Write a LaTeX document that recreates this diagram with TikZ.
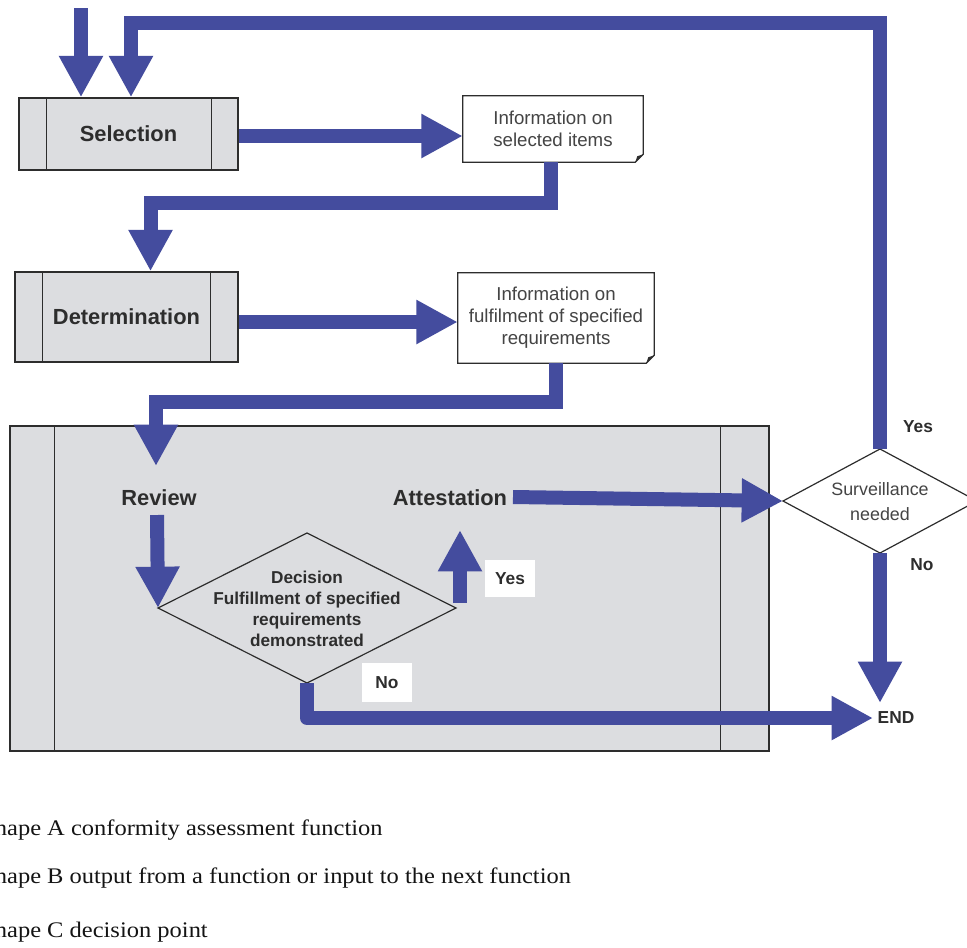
\documentclass[tikz,border=0pt]{standalone}
\usepackage{fontspec}
\setmainfont{Liberation Sans}
\newfontfamily\legendfont[FakeStretch=1.1]{Liberation Serif}
\usetikzlibrary{arrows.meta}
\definecolor{flowblue}{RGB}{68,76,158}
\definecolor{boxgray}{RGB}{220,221,224}
\definecolor{inkgray}{RGB}{45,45,45}
\definecolor{txtgray}{RGB}{68,68,68}
\begin{document}
\begin{tikzpicture}[x=0.75pt,y=-0.75pt,
  flow/.style={draw=flowblue,line width=10.5pt,-{Triangle[width=31pt,length=31pt]}},
  fnbox/.style={draw=inkgray,fill=boxgray,line width=1.1pt,rectangle,inner sep=0pt},
  fnline/.style={draw=inkgray,line width=1.1pt},
  infoline/.style={draw=inkgray,line width=1pt},
  diamline/.style={draw=inkgray,line width=0.9pt},
  biglbl/.style={font=\bfseries\fontsize{16.4}{19}\selectfont,text=inkgray,inner sep=2pt},
  infotxt/.style={font=\fontsize{14}{16.5}\selectfont,text=txtgray,align=center,inner sep=0pt},
  yn/.style={font=\bfseries\fontsize{13}{15}\selectfont,text=inkgray},
  legend/.style={anchor=base west,font=\legendfont\fontsize{16.7}{19}\selectfont,text=black!92,inner sep=0pt}]
\clip (0,0) rectangle (967,947);
\fill[white] (0,0) rectangle (967,947);

% function boxes
\node[fnbox,minimum width=164.25pt,minimum height=54pt,biglbl] (sel) at (128.5,134) {Selection};
\draw[fnline] ([xshift=21pt]sel.north west) -- ([xshift=21pt]sel.south west);
\draw[fnline] ([xshift=-20.25pt]sel.north east) -- ([xshift=-20.25pt]sel.south east);

\node[fnbox,minimum width=167.25pt,minimum height=67.5pt,biglbl] (det) at (126.5,317) {Determination};
\draw[fnline] ([xshift=21pt]det.north west) -- ([xshift=21pt]det.south west);
\draw[fnline] ([xshift=-21pt]det.north east) -- ([xshift=-21pt]det.south east);

\node[fnbox,minimum width=569.25pt,minimum height=243.75pt] (big) at (389.5,588.5) {};
\draw[fnline] ([xshift=33.75pt]big.north west) -- ([xshift=33.75pt]big.south west);
\draw[fnline] ([xshift=-36.75pt]big.north east) -- ([xshift=-36.75pt]big.south east);

% output documents
\node[infotxt,minimum width=135pt,minimum height=49.5pt] (info1) at (553,129) {Information on\\selected items};
\draw[infoline] (info1.north west) -- (info1.north east) -- ([yshift=6pt]info1.south east)
  -- ([xshift=-6pt]info1.south east) -- (info1.south west) -- cycle;
\fill[inkgray] ([yshift=6pt]info1.south east) -- ([xshift=-6pt]info1.south east) -- ([xshift=-4.5pt,yshift=4.5pt]info1.south east) -- cycle;

\node[infotxt,minimum width=147pt,minimum height=67.5pt] (info2) at (556,318) {Information on\\fulfilment of specified\\requirements};
\draw[infoline] (info2.north west) -- (info2.north east) -- ([yshift=6pt]info2.south east)
  -- ([xshift=-6pt]info2.south east) -- (info2.south west) -- cycle;
\fill[inkgray] ([yshift=6pt]info2.south east) -- ([xshift=-6pt]info2.south east) -- ([xshift=-4.5pt,yshift=4.5pt]info2.south east) -- cycle;

% decision inside review
\draw[diamline] (158,608) coordinate (decL) -- (307,533) coordinate (decT)
  -- (456,608) coordinate (decR) -- (307,683) coordinate (decB) -- cycle;
\node[font=\bfseries\fontsize{12.9}{15.75}\selectfont,text=inkgray,align=center] (dec) at (307,609) {Decision\\Fulfillment of specified\\requirements\\demonstrated};

\node[biglbl] (rev) at (159,498) {Review};
\node[biglbl] (att) at (450,498) {Attestation};

% surveillance decision
\draw[diamline] (783,501) coordinate (survL) -- (880,449) coordinate (survT)
  -- (977,501) coordinate (survR) -- (880,553) coordinate (survB) -- cycle;
\node[font=\fontsize{13.4}{18.75}\selectfont,text=txtgray,align=center] (surv) at (880,502) {Surveillance\\needed};

\node[yn] (endn) at (896,718) {END};

% yes/no labels
\node[yn,fill=white,minimum width=37.5pt,minimum height=27.75pt] (yes1) at (510,578.5) {Yes};
\node[yn,fill=white,minimum width=37.5pt,minimum height=29.25pt] (no1) at (387,682.5) {No};
\node[yn] (yes2) at (918,427) {Yes};
\node[yn] (no2) at (922,565) {No};

% flows
\coordinate (in0) at (81,8);
\draw[flow] (in0) -- (in0 |- sel.north);
\coordinate (lp) at (131,23);
\draw[flow] (survT) |- (lp) -- (lp |- sel.north);

\coordinate (s1) at ([yshift=-1.5pt]sel.east);
\draw[flow] (s1) -- (s1 -| info1.west);

\coordinate (d1) at ([xshift=18pt]det.north);
\draw[flow] ([xshift=-1.5pt]info1.south) -- ++(0,41) -| (d1);

\coordinate (s2) at ([yshift=-3.75pt]det.east);
\draw[flow] (s2) -- (s2 -| info2.west);

\coordinate (r1) at (156,466);
\draw[flow] (info2.south) -- ++(0,39) -| (r1);

\coordinate (r2) at (157,515);
\draw[flow] (r2) -- (decL);

\coordinate (y0) at (460,603);
\coordinate (y1) at (460,530);
\draw[flow] (y0) -- (y1);

\coordinate (a0) at (513,497);
\draw[flow] (a0) -- (survL);

\coordinate (e1) at (873,718);
\draw[flow,line join=round] (decB) |- (e1);
\coordinate (e2) at (880,703);
\draw[flow] (survB) -- (e2);

% legend
\node[legend] (lg1) at (-19,835) {Shape A conformity assessment function};
\node[legend] (lg2) at (-19,883) {Shape B output from a function or input to the next function};
\node[legend] (lg3) at (-19,937) {Shape C decision point};
\end{tikzpicture}
\end{document}
